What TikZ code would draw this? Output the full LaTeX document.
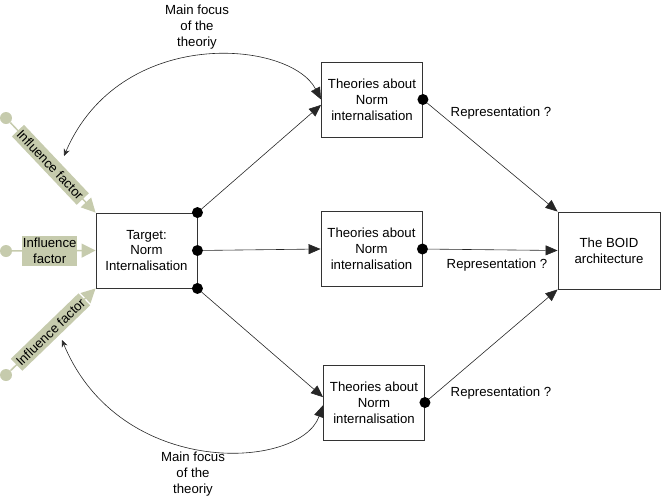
\documentclass[tikz,border=0pt]{standalone}
\usepackage{fontspec}
\setmainfont{Liberation Sans}
\usetikzlibrary{arrows.meta,positioning,calc}
\definecolor{infgreen}{HTML}{C6CBAD}
\definecolor{boxgrey}{HTML}{333333}

\begin{document}
\begin{tikzpicture}[
  x=1pt,y=-1pt,
  font=\fontsize{13.2}{15.8}\selectfont,
  box/.style={draw=boxgrey,line width=0.9pt,fill=white,minimum width=101pt,
              minimum height=75pt,inner sep=0pt,align=center},
  dot/.style={circle,fill=black,inner sep=0pt,minimum size=11pt},
  arr/.style={-{Triangle[length=12pt,width=10pt]},line width=0.6pt,draw=black!85},
  focus/.style={{Stealth[length=7pt,width=6pt]}-{Triangle[length=12pt,width=10pt]},
                line width=0.6pt,draw=black!85},
  infdot/.style={circle,fill=infgreen,inner sep=0pt,minimum size=12pt},
  infarr/.style={-{Triangle[length=14pt,width=14pt]},line width=1.5pt,draw=infgreen},
  inflbl/.style={fill=infgreen,inner xsep=2pt,inner ysep=3.5pt,align=center},
  note/.style={align=center}
]
\useasboundingbox (0,0) rectangle (661,499);

% boxes
\node[box] (tg) at (146.5,250.5) {Target:\\Norm\\Internalisation};
\node[box] (t1) at (372,99.5) {Theories about\\Norm\\internalisation};
\node[box] (t2) at (371.5,249) {Theories about\\Norm\\internalisation};
\node[box] (t3) at (374,402.5) {Theories about\\Norm\\internalisation};
\node[box,minimum width=102pt,minimum height=77pt] (boid) at (609,250.5) {The BOID\\architecture};

% dots
\node[dot] (g1) at (tg.north east) {};
\node[dot] (g2) at (tg.east) {};
\node[dot] (g3) at (tg.south east) {};
\node[dot] (r1) at (t1.east) {};
\node[dot] (r2) at (t2.east) {};
\node[dot] (r3) at (t3.east) {};

\draw[arr] (g1) -- (t1.186);
\draw[arr] (g2) -- (t2.west);
\draw[arr] (g3) -- (t3.174);

\draw[arr] (r1) -- (boid.north west);
\draw[arr] (r2) -- (boid.west);
\draw[arr] (r3) -- (boid.south west);

\node (rep1) at (501,113) {Representation ?};
\node (rep2) at (497,265) {Representation ?};
\node (rep3) at (501,393) {Representation ?};

% main focus
\coordinate (c1) at (64,156);
\coordinate (c2) at (62,340);
\draw[focus] (c1) .. controls (120,25) and (290,40) .. (t1.west);
\draw[focus] (c2) .. controls (120,480) and (300,470) .. (t3.183);
\node[note] (mf1) at (197,27) {Main focus\\of the\\theoriy};
\node[note] (mf2) at (193,474) {Main focus\\of the\\theoriy};

% influence factors
\node[infdot] (f1) at (6,118) {};
\node[infdot] (f2) at (6,251) {};
\node[infdot] (f3) at (6,375) {};
\draw[infarr] (f1) -- node[inflbl,sloped,pos=0.47] (l1) {Influence factor} (tg.north west);
\draw[infarr] (f2) -- node[inflbl,inner xsep=1pt,inner ysep=2.5pt,pos=0.45] (l2) {Influence\\factor} (tg.west);
\draw[infarr] (f3) -- node[inflbl,sloped,pos=0.47] (l3) {Influence factor} (tg.south west);
\end{tikzpicture}
\end{document}
